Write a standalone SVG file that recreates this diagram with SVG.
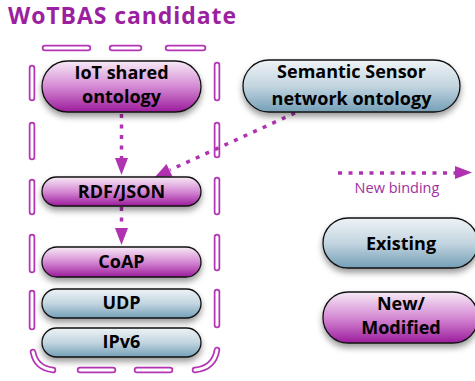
<svg xmlns="http://www.w3.org/2000/svg" width="475" height="381" viewBox="0 0 475 381">
<style>
.t{font-family:"Open Sans","Liberation Sans",sans-serif;font-weight:bold;font-size:18px;fill:#000;text-anchor:middle}
.box{stroke:#111;stroke-width:1.3}
.mag{fill:url(#gm)}
.blu{fill:url(#gb)}
.dO{fill:none;stroke:#B534B5;stroke-width:6.5;stroke-linecap:round}
.dI{fill:none;stroke:#fff;stroke-width:3;stroke-linecap:round}
.arr{fill:none;stroke:#B032B0;stroke-width:3.5;stroke-dasharray:4 6.5}
.ah{fill:#B032B0}
</style>
<defs>
<linearGradient id="gm" x1="0" y1="0" x2="0" y2="1">
<stop offset="0" stop-color="#F7EAF6"/>
<stop offset="0.5" stop-color="#D58AD4"/>
<stop offset="1" stop-color="#9C1C9C"/>
</linearGradient>
<linearGradient id="gb" x1="0" y1="0" x2="0" y2="1">
<stop offset="0" stop-color="#EEF3F6"/>
<stop offset="0.5" stop-color="#C3D5E0"/>
<stop offset="1" stop-color="#749FB7"/>
</linearGradient>
<filter id="sh" x="-10%" y="-20%" width="120%" height="160%">
<feDropShadow dx="0" dy="4" stdDeviation="3" flood-color="#000" flood-opacity="0.4"/>
</filter>
<path id="border" d="M45 48 L88 48 M112 48 L139 48 M168 48 L203 48 M32 68 L32 98 M32 125 L32 157 M32 182 L32 212 M32 237 L32 270 M32 293 L32 327 M33 352 Q36 368 53 370 M80 370 L113 370 M137 370 L170 370 M195 370 Q214 368 217 350 M217 65 L217 98 M217 125 L217 155 M217 180 L217 212 M217 237 L217 268 M217 292 L217 325"/>
</defs>
<text x="8" y="24" textLength="228" lengthAdjust="spacing" style="font-family:'Open Sans','Liberation Sans',sans-serif;font-weight:bold;font-size:23px;fill:#9B1FA0">WoTBAS candidate</text>
<g id="boundary">
<use href="#border" class="dO"/>
<use href="#border" class="dI"/>
</g>
<g id="connectors">
<path class="arr" d="M121.5 114 L121.5 158"/>
<path class="ah" d="M115 158 L128 158 L121.5 175 Z"/>
<path class="arr" d="M121.5 207 L121.5 228"/>
<path class="ah" d="M115 228 L128 228 L121.5 245 Z"/>
<path class="arr" d="M295 113 L170 170"/>
<path class="ah" d="M155 177 L166.5 164 L172.5 176.6 Z"/>
<path class="arr" d="M338 173 L456 173"/>
<path class="ah" d="M455 166 L472 172.5 L455 179 Z"/>
</g>
<g id="iot">
<rect class="box mag" x="42" y="61" width="159" height="51" rx="25.5" filter="url(#sh)"/>
<text class="t" x="121.5" y="79">IoT shared</text>
<text class="t" x="121.5" y="103">ontology</text>
</g>
<g id="ssn">
<rect class="box blu" x="243" y="60" width="217" height="52" rx="26" filter="url(#sh)"/>
<text class="t" x="351.5" y="78">Semantic Sensor</text>
<text class="t" x="351.5" y="105">network ontology</text>
</g>
<g id="rdf">
<rect class="box mag" x="42" y="177" width="159" height="29" rx="14.5" filter="url(#sh)"/>
<text class="t" x="121.5" y="198">RDF/JSON</text>
</g>
<g id="coap">
<rect class="box mag" x="42" y="247" width="159" height="30" rx="15" filter="url(#sh)"/>
<text class="t" x="121.5" y="268">CoAP</text>
</g>
<g id="udp">
<rect class="box blu" x="42" y="289" width="159" height="29" rx="14.5" filter="url(#sh)"/>
<text class="t" x="121.5" y="309">UDP</text>
</g>
<g id="ipv6">
<rect class="box blu" x="42" y="328" width="159" height="29" rx="14.5" filter="url(#sh)"/>
<text class="t" x="121.5" y="348">IPv6</text>
</g>
<g id="legend-binding">
<text x="397" y="193" style="font-family:'Open Sans','Liberation Sans',sans-serif;font-size:14.5px;fill:#A030A0;text-anchor:middle">New binding</text>
</g>
<g id="existing">
<rect class="box blu" x="323" y="218" width="155" height="50" rx="25" filter="url(#sh)"/>
<text class="t" x="401" y="250">Existing</text>
</g>
<g id="newmod">
<rect class="box mag" x="323" y="292" width="155" height="51" rx="25" filter="url(#sh)"/>
<text class="t" x="401" y="310">New/</text>
<text class="t" x="401" y="334">Modified</text>
</g>
</svg>
